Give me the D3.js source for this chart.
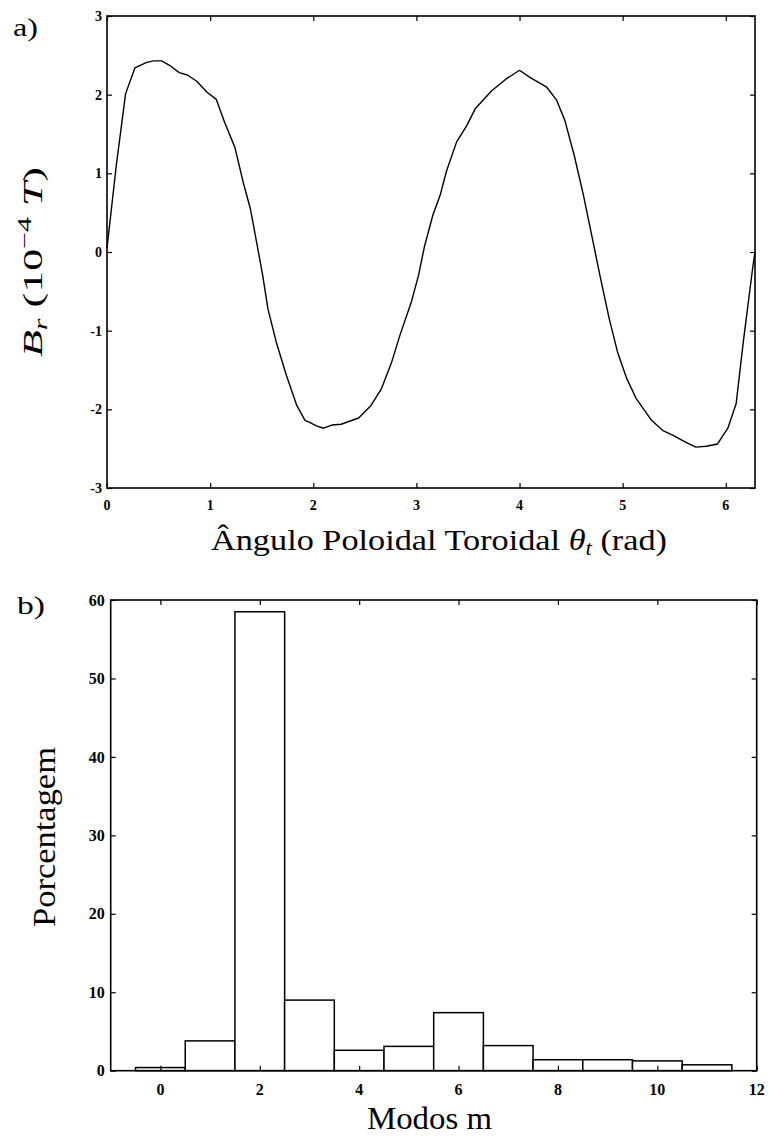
<!DOCTYPE html>
<html><head><meta charset="utf-8">
<script src="https://cdn.jsdelivr.net/npm/d3@7"></script>
<style>
body{margin:0;background:#fff;}
svg{display:block;}
text{font-family:"Liberation Serif","Times New Roman",serif;fill:#000;}
</style></head>
<body>
<svg id="chart" width="770" height="1137"></svg>
<script>
// ---- Data: panel a ----
const theta = [0.00,0.09,0.18,0.27,0.385,0.45,0.53,0.61,0.70,0.78,0.87,0.97,1.06,1.14,1.24,1.32,1.39,1.45,1.51,1.56,1.64,1.74,1.84,1.92,1.97,2.03,2.10,2.18,2.27,2.44,2.56,2.66,2.76,2.84,2.95,3.02,3.08,3.16,3.23,3.29,3.39,3.49,3.57,3.73,3.87,4.00,4.10,4.26,4.36,4.44,4.53,4.62,4.70,4.78,4.87,4.95,5.04,5.13,5.28,5.39,5.49,5.60,5.71,5.81,5.92,6.02,6.10,6.17,6.26,6.283];
const br = [0.05,1.10,2.01,2.34,2.41,2.43,2.43,2.37,2.28,2.25,2.17,2.03,1.94,1.65,1.33,0.89,0.55,0.13,-0.30,-0.72,-1.14,-1.57,-1.95,-2.14,-2.17,-2.21,-2.24,-2.20,-2.19,-2.11,-1.95,-1.74,-1.40,-1.06,-0.64,-0.30,0.08,0.47,0.72,1.02,1.40,1.61,1.82,2.05,2.20,2.31,2.22,2.10,1.93,1.67,1.23,0.72,0.21,-0.30,-0.85,-1.27,-1.61,-1.86,-2.14,-2.27,-2.33,-2.41,-2.48,-2.47,-2.44,-2.24,-1.93,-1.14,-0.21,0.00];
const aXTicks = [0,1,2,3,4,5,6];
const aYTicks = [-3,-2,-1,0,1,2,3];

// ---- Data: panel b ----
const modes = [0,1,2,3,4,5,6,7,8,9,10,11];
const percent = [0.4,3.8,58.5,9.0,2.6,3.1,7.4,3.2,1.4,1.4,1.25,0.75];
const bXTicks = [0,2,4,6,8,10,12];
const bYTicks = [0,10,20,30,40,50,60];

const svg = d3.select("#chart");
const TL = 5;

function frame(g, x, y, xTicks, yTicks, fs, xLabDy, yLabDx){
  const [x0,x1] = x.range(), [y0,y1] = y.range();
  g.append("g").call(d3.axisBottom(x).tickValues(xTicks).tickSize(-TL).tickFormat(""))
    .attr("transform",`translate(0,${y0})`);
  g.append("g").call(d3.axisTop(x).tickValues(xTicks).tickSize(-TL).tickFormat(""))
    .attr("transform",`translate(0,${y1})`);
  g.append("g").call(d3.axisLeft(y).tickValues(yTicks).tickSize(-TL).tickFormat(""))
    .attr("transform",`translate(${x0},0)`);
  g.append("g").call(d3.axisRight(y).tickValues(yTicks).tickSize(-TL).tickFormat(""))
    .attr("transform",`translate(${x1},0)`);
  g.selectAll(".domain").remove();
  g.selectAll(".tick line").attr("stroke","#000").attr("stroke-width",1.2);
  g.append("rect").attr("x",x0).attr("y",y1).attr("width",x1-x0).attr("height",y0-y1)
    .attr("fill","none").attr("stroke","#000").attr("stroke-width",1.6);
  g.selectAll(".xl").data(xTicks).join("text")
    .attr("x",d=>x(d)).attr("y",y0+xLabDy).attr("text-anchor","middle")
    .attr("font-size",fs).attr("font-weight","bold").text(d=>d);
  g.selectAll(".yl").data(yTicks).join("text")
    .attr("x",x0-yLabDx).attr("y",d=>y(d)+fs*0.35).attr("text-anchor","end")
    .attr("font-size",fs).attr("font-weight","bold").text(d=>d);
}

// ---- Panel a ----
const xa = d3.scaleLinear().domain([0,2*Math.PI]).range([107,755]);
const ya = d3.scaleLinear().domain([-3,3]).range([488,16]);
const ga = svg.append("g");
frame(ga, xa, ya, aXTicks, aYTicks, 14, 22, 5);
ga.append("path")
  .datum(theta.map((t,i)=>[t,br[i]]))
  .attr("fill","none").attr("stroke","#000").attr("stroke-width",1.4)
  .attr("stroke-linejoin","round")
  .attr("d", d3.line().x(d=>xa(d[0])).y(d=>ya(d[1])));

svg.append("text").attr("x",13).attr("y",36).attr("font-size",26)
  .attr("textLength",25).attr("lengthAdjust","spacingAndGlyphs").text("a)");
const xt = svg.append("text").attr("x",211).attr("y",550).attr("font-size",30)
  .attr("textLength",456).attr("lengthAdjust","spacingAndGlyphs");
xt.append("tspan").text("Ângulo Poloidal Toroidal ");
xt.append("tspan").attr("font-style","italic").text("θ");
xt.append("tspan").attr("font-style","italic").attr("font-size",20).attr("dy",5).text("t");
xt.append("tspan").attr("dy",-5).text(" (rad)");

const yt = svg.append("text").attr("transform","translate(42,357) rotate(-90)")
  .attr("font-size",28).attr("textLength",190).attr("lengthAdjust","spacingAndGlyphs");
yt.append("tspan").attr("font-style","italic").text("B");
yt.append("tspan").attr("font-style","italic").attr("font-size",19).attr("dy",5).text("r");
yt.append("tspan").attr("dy",-5).text(" (10");
yt.append("tspan").attr("font-size",19).attr("dy",-11).text("−4");
yt.append("tspan").attr("dy",11).text(" ");
yt.append("tspan").attr("font-style","italic").text("T");
yt.append("tspan").text(")");

// ---- Panel b ----
const xb = d3.scaleLinear().domain([-1,12]).range([110.7,756.7]);
const yb = d3.scaleLinear().domain([0,60]).range([1070.7,600]);
const gb = svg.append("g");
gb.selectAll("rect.bar").data(modes).join("rect").attr("class","bar")
  .attr("x",d=>xb(d-0.5)).attr("width",d=>xb(d+0.5)-xb(d-0.5))
  .attr("y",(d,i)=>yb(percent[i])).attr("height",(d,i)=>yb(0)-yb(percent[i]))
  .attr("fill","#fff").attr("stroke","#000").attr("stroke-width",1.5);
frame(gb, xb, yb, bXTicks, bYTicks, 16, 24, 6);

svg.append("text").attr("x",17).attr("y",614).attr("font-size",26)
  .attr("textLength",28).attr("lengthAdjust","spacingAndGlyphs").text("b)");
svg.append("text").attr("x",367).attr("y",1129).attr("font-size",32)
  .attr("textLength",125).attr("lengthAdjust","spacingAndGlyphs").text("Modos m");
svg.append("text").attr("transform","translate(55,927) rotate(-90)")
  .attr("font-size",31).attr("textLength",180).attr("lengthAdjust","spacingAndGlyphs").text("Porcentagem");
</script>
</body></html>
